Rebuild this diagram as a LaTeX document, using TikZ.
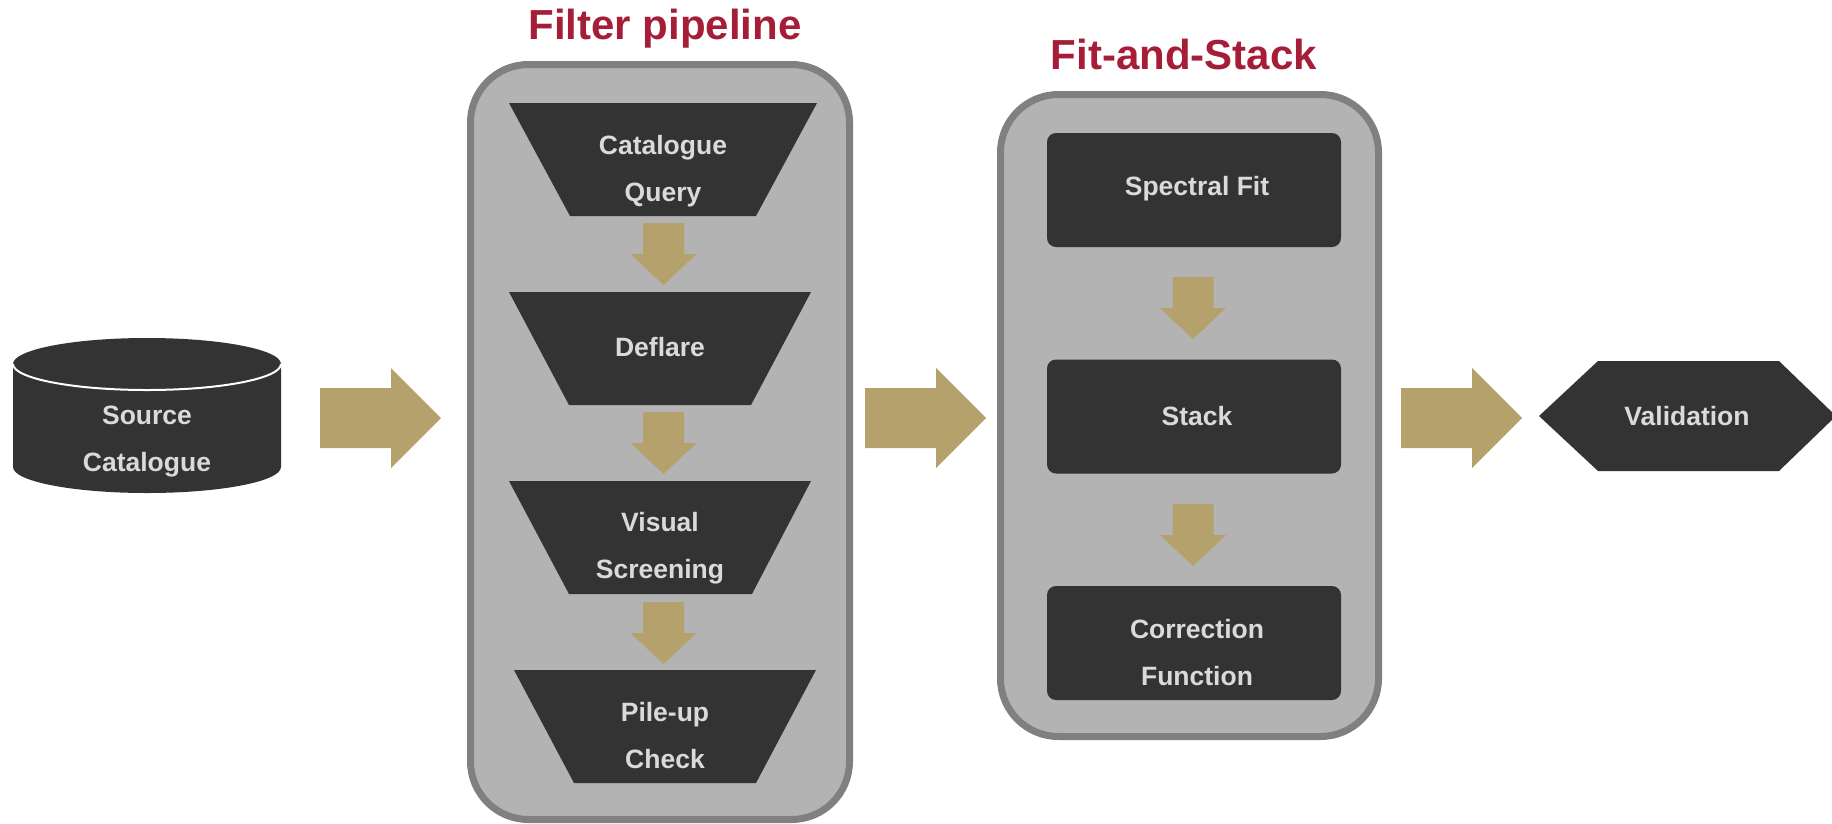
\documentclass[tikz,border=0pt]{standalone}
\usepackage{fontspec}
\setmainfont{Liberation Sans}
\definecolor{dark}{HTML}{333333}
\definecolor{panel}{HTML}{B3B3B3}
\definecolor{rim}{HTML}{808080}
\definecolor{gold}{HTML}{B5A16B}
\definecolor{crimson}{HTML}{A51D37}
\definecolor{lighttext}{HTML}{DADADA}
\begin{document}
\begin{tikzpicture}[x=1pt,y=-1pt,
  lbl/.style={text=lighttext, font=\fontsize{26.5}{47}\selectfont\bfseries, align=center, inner sep=0pt},
  titletext/.style={text=crimson, font=\fontsize{42}{48}\selectfont\bfseries, inner sep=0pt, anchor=base},
  panelbox/.style={draw=rim, fill=panel, line width=7pt, rounded corners=58pt},
  darkbox/.style={fill=dark, rounded corners=9pt, minimum width=294pt, minimum height=114pt, inner sep=0pt},
  pics/downarrow/.style={code={\fill[gold] (-20.5,0) -- (20.5,0) -- (20.5,31) -- (33,31) -- (0,62) -- (-33,31) -- (-20.5,31) -- cycle;}},
  pics/rightarrow/.style={code={\fill[gold] (0,-30) -- (71,-30) -- (71,-50) -- (121,0) -- (71,50) -- (71,30) -- (0,30) -- cycle;}}
]
\useasboundingbox (0,0) rectangle (1832,823);

% Source catalogue cylinder
\fill[dark] (13,364) -- (13,467) arc[start angle=180, end angle=0, x radius=134, y radius=26] -- (281,364) -- cycle;
\fill[dark] (147,364) ellipse[x radius=134, y radius=26];
\draw[white, line width=2pt] (13,364) arc[start angle=180, end angle=0, x radius=134, y radius=26];
\node[lbl] (src) at (147,442) {Source\\Catalogue};

% Filter pipeline panel
\draw[panelbox] (470.5,64.5) rectangle (849.5,819.5);
\node[titletext] (ftitle) at (665,39) {Filter pipeline};
\fill[dark] (509,103) -- (817,103) -- (756,216) -- (570,216) -- cycle;
\node[lbl] (cq) at (663,171) {Catalogue\\Query};
\fill[dark] (509,292) -- (811,292) -- (751,405) -- (569,405) -- cycle;
\node[lbl] (df) at (660,347) {Deflare};
\fill[dark] (509,481) -- (811,481) -- (752,594) -- (569,594) -- cycle;
\node[lbl] (vs) at (660,548) {Visual\\Screening};
\fill[dark] (514,670) -- (816,670) -- (756,783) -- (574,783) -- cycle;
\node[lbl] (pc) at (665,736) {Pile-up\\Check};
\pic at (663.5,223) {downarrow};
\pic at (663.5,412) {downarrow};
\pic at (663.5,602) {downarrow};

% Fit-and-Stack panel
\draw[panelbox] (1000.5,94.5) rectangle (1378.5,736.5);
\node[titletext] (stitle) at (1184,69) {Fit-and-Stack};
\node[darkbox] (sfbox) at (1194,190) {};
\node[lbl] (sf) at (1197,189) {Spectral Fit};
\node[darkbox] (stbox) at (1194,416.5) {};
\node[lbl] (st) at (1197,416) {Stack};
\node[darkbox] (cfbox) at (1194,643) {};
\node[lbl] (cf) at (1197,653) {Correction\\Function};
\pic at (1193,277) {downarrow};
\pic at (1193,504) {downarrow};

% Big arrows
\pic at (320,418) {rightarrow};
\pic at (865,418) {rightarrow};
\pic at (1401,418) {rightarrow};

% Validation hexagon
\fill[dark] (1539,416) -- (1598,361) -- (1779,361) -- (1836,416) -- (1779,471) -- (1598,471) -- cycle;
\node[lbl] (val) at (1687,416) {Validation};
\end{tikzpicture}
\end{document}
